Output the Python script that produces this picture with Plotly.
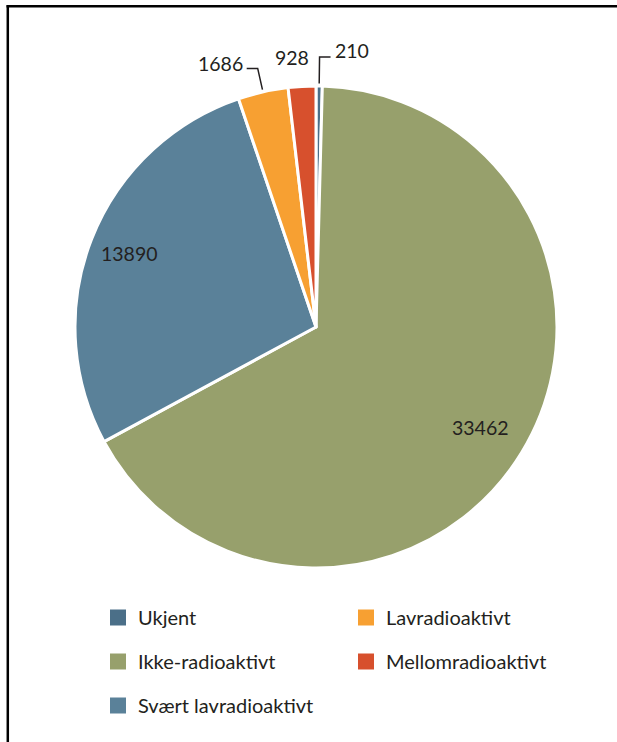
import math
import plotly.graph_objects as go

# ---- data ----
categories = ["Ukjent", "Ikke-radioaktivt", "Svært lavradioaktivt", "Lavradioaktivt", "Mellomradioaktivt"]
values = [210, 33462, 13890, 1686, 928]
colors = ["#4b6f88", "#97a06c", "#5a8199", "#f7a032", "#d7502d"]

# legend layout: column 1 / column 2
legend_col1 = ["Ukjent", "Ikke-radioaktivt", "Svært lavradioaktivt"]
legend_col2 = ["Lavradioaktivt", "Mellomradioaktivt"]

# ---- style for labels ----
# (placement, radial factor, leader side, dx shift, dy shift)
label_style = {
    "Ukjent": ("out", 1.12, 1, 0, -2),
    "Ikke-radioaktivt": ("in", 0.80, 0, 0, 0),
    "Svært lavradioaktivt": ("in", 0.83, 0, 0, 0),
    "Lavradioaktivt": ("out", 1.10, -1, 0, 0),
    "Mellomradioaktivt": ("out", 1.12, 0, -8, 5),
}

W, H = 617, 742
cx, cy, R = 316, 327, 241
FONT = "Lato"
TXT = "#231f20"
LBL_SIZE = 19.5
LEG_SIZE = 20

fig = go.Figure()
fig.add_trace(go.Pie(
    labels=categories, values=values, sort=False, direction="clockwise", rotation=0,
    marker=dict(colors=colors, line=dict(color="white", width=3)),
    textinfo="none", showlegend=False, hoverinfo="label+value",
    domain=dict(x=[(cx - R) / W, (cx + R) / W], y=[(H - cy - R) / H, (H - cy + R) / H]),
))

cmap = dict(zip(categories, colors))
for name in legend_col1:
    fig.add_trace(go.Scatter(x=[None], y=[None], mode="markers", name=name, legend="legend",
                             marker=dict(symbol="square", size=16, color=cmap[name]), legendgroup=name))
for name in legend_col2:
    fig.add_trace(go.Scatter(x=[None], y=[None], mode="markers", name=name, legend="legend2",
                             marker=dict(symbol="square", size=16, color=cmap[name]), legendgroup=name))

def px(x):
    return x / W

def py(y):
    return 1 - y / H

total = sum(values)
cum = 0
annotations = []
shapes = []
for cat, v in zip(categories, values):
    mid = (cum + v / 2) / total * 2 * math.pi
    cum += v
    kind, rf, side, dx, dy = label_style[cat]
    sx, sy = math.sin(mid), -math.cos(mid)
    lfont = dict(family=FONT, size=LBL_SIZE, color=TXT)
    if kind == "in":
        annotations.append(dict(x=px(cx + rf * R * sx), y=py(cy + rf * R * sy), xref="paper", yref="paper",
                                text=str(v), showarrow=False, font=lfont,
                                xanchor="center", yanchor="middle"))
    else:
        x1, y1 = cx + rf * R * sx, cy + rf * R * sy
        if side != 0:
            x0, y0 = cx + 1.01 * R * sx, cy + 1.01 * R * sy
            x2 = x1 + side * 11
            shapes.append(dict(type="path", xref="paper", yref="paper",
                               path=f"M {px(x0)} {py(y0)} L {px(x1)} {py(y1)} L {px(x2)} {py(y1)}",
                               line=dict(color=TXT, width=1.5)))
            annotations.append(dict(x=px(x2 + side * 2), y=py(y1 - 5 + dy), xref="paper", yref="paper",
                                    text=str(v), showarrow=False, font=lfont,
                                    xanchor="left" if side > 0 else "right", yanchor="middle"))
        else:
            annotations.append(dict(x=px(x1 + dx), y=py(y1 - 5 + dy), xref="paper", yref="paper",
                                    text=str(v), showarrow=False, font=lfont,
                                    xanchor="center", yanchor="middle"))

# frame lines (top and left)
shapes.append(dict(type="line", xref="paper", yref="paper", x0=px(6.5), x1=1.0, y0=py(6.3), y1=py(6.3),
                   line=dict(color="black", width=2.5)))
shapes.append(dict(type="line", xref="paper", yref="paper", x0=px(7.8), x1=px(7.8), y0=py(5.2), y1=0,
                   line=dict(color="black", width=2.5)))

legend_common = dict(orientation="v", xanchor="left", yanchor="top", bgcolor="rgba(0,0,0,0)",
                     font=dict(family=FONT, size=LEG_SIZE, color=TXT), tracegroupgap=15,
                     itemsizing="trace", itemclick=False, itemdoubleclick=False)

fig.update_layout(
    width=W, height=H, margin=dict(l=0, r=0, t=0, b=0),
    paper_bgcolor="white", plot_bgcolor="white",
    xaxis=dict(visible=False), yaxis=dict(visible=False),
    legend=dict(x=px(98), y=py(598), **legend_common),
    legend2=dict(x=px(346), y=py(598), **legend_common),
    annotations=annotations, shapes=shapes,
)

fig.write_html("out.html", config={"displayModeBar": False},
               post_script="document.body.style.margin='0px';")
